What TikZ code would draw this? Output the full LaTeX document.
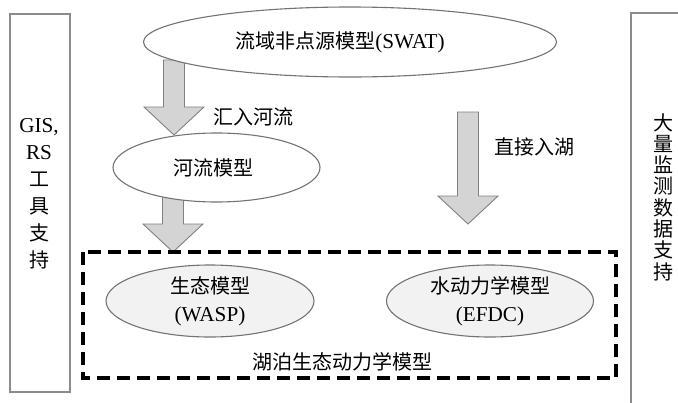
\documentclass[tikz,border=0pt]{standalone}
\usepackage{fontspec}
\setmainfont{Liberation Serif}[Scale=1.06]
\newfontfamily\cjk{Noto Sans CJK SC}
\usetikzlibrary{calc,shapes.geometric}
\newcommand\blockarrow[2]{%
  \draw[blk] let \p1=(#1), \p2=(#2) in
    (\x1-10.5pt,\y1) -- (\x1+10.5pt,\y1) -- (\x1+10.5pt,\y2+28pt) -- (\x1+30pt,\y2+28pt)
    -- (\x2,\y2) -- (\x1-30pt,\y2+28pt) -- (\x1-10.5pt,\y2+28pt) -- cycle;}
\begin{document}
\begin{tikzpicture}[x=1pt,y=-1pt,
  every node/.style={font=\fontsize{20}{24}\selectfont, inner sep=0pt},
  oval/.style={ellipse, draw=black!55, line width=1.1pt, fill=white},
  ovalfill/.style={oval, fill=black!5},
  sidebox/.style={draw=black!45, line width=1.2pt},
  blk/.style={fill=black!17, draw=black!50, line width=0.9pt},
  groupbox/.style={draw=black, line width=3.2pt, dash pattern=on 13pt off 7pt},
]
\useasboundingbox (0,0) rectangle (678,402);
\clip (0,0) rectangle (678,402);

% side boxes
\draw[sidebox] (10,14) rectangle (70,392);
\draw[sidebox] (631,13) rectangle (700,420);
\node[align=center, font=\fontsize{20}{27}\selectfont] (left) at (39,194)
  {GIS,\\RS\\{\cjk 工}\\{\cjk 具}\\{\cjk 支}\\{\cjk 持}};
\node[align=center, font=\cjk\fontsize{20}{21.3}\selectfont] (right) at (663,197)
  {大\\量\\监\\测\\数\\据\\支\\持};

% arrow anchor coordinates
\coordinate (a1s) at (174,60);
\coordinate (a1e) at (174,135);
\coordinate (a2s) at (173,196);
\coordinate (a2e) at (173,252);
\coordinate (a3s) at (468,112);
\coordinate (a3e) at (468,224);

\blockarrow{a1s}{a1e}
\blockarrow{a2s}{a2e}
\blockarrow{a3s}{a3e}

% ellipses
\node[oval, minimum width=413pt, minimum height=70pt] (swat) at (350,42)
  {{\cjk 流域非点源模型}(SWAT)\hspace*{20pt}};
\node[oval, minimum width=207pt, minimum height=69pt] (river) at (216.5,167.5)
  {\cjk 河流模型\hspace*{7pt}};

\node (lbl1) at (253.5,117) {\cjk 汇入河流};
\node (lbl2) at (534,147) {\cjk 直接入湖};

% lake group
\draw[groupbox] (83,252) rectangle (616,378);
\node[ovalfill, minimum width=208pt, minimum height=72pt, align=center,
      font=\fontsize{20}{28}\selectfont] (wasp) at (210,301)
  {{\cjk 生态模型}\\(WASP)};
\node[ovalfill, minimum width=207pt, minimum height=72pt, align=center,
      font=\fontsize{20}{28}\selectfont] (efdc) at (490,301)
  {{\cjk 水动力学模型}\\(EFDC)};
\node (lake) at (342,362) {\cjk 湖泊生态动力学模型};
\end{tikzpicture}
\end{document}
